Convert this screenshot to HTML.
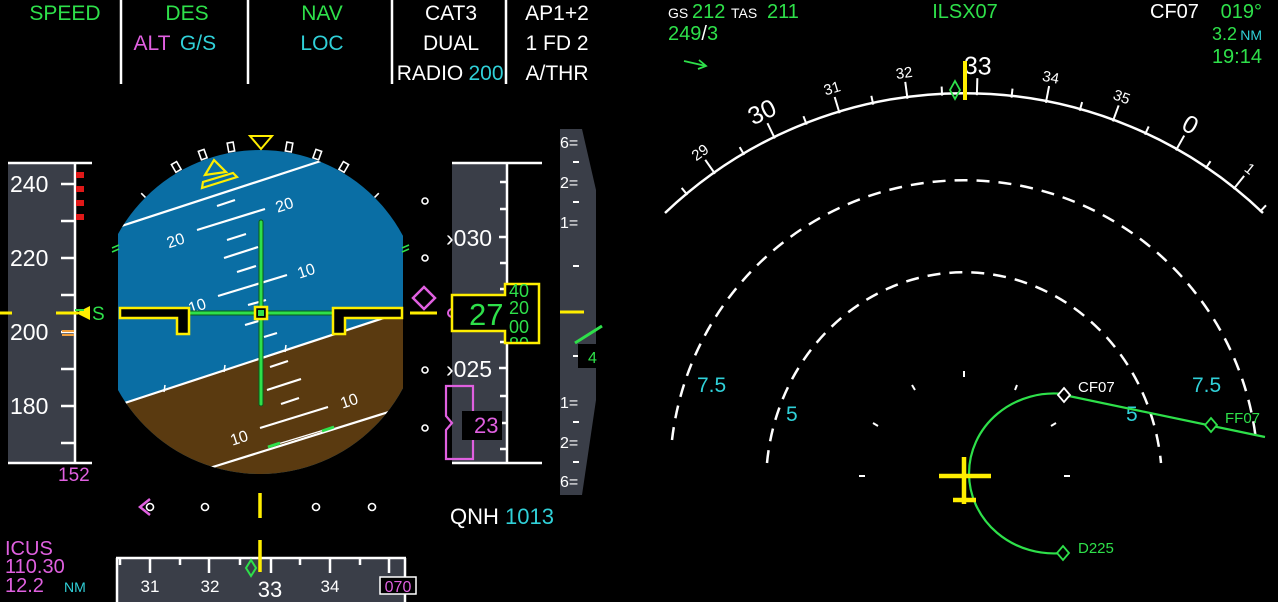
<!DOCTYPE html>
<html><head><meta charset="utf-8"><style>
html,body{margin:0;padding:0;background:#000;}
svg{display:block;}
text{font-family:"Liberation Sans Narrow","Liberation Sans",sans-serif;}
</style></head><body>
<svg width="1278" height="602" viewBox="0 0 1278 602" xmlns="http://www.w3.org/2000/svg">
<rect width="1278" height="602" fill="#000"/>
<defs>
<clipPath id="att"><circle cx="260" cy="312" r="162"/></clipPath>
<clipPath id="attr"><rect x="118" y="140" width="285" height="340"/></clipPath>
<clipPath id="drum"><rect x="506" y="284" width="32" height="58"/></clipPath>
</defs>

<!-- FMA -->
<g stroke="#fff" stroke-width="2.5">
<line x1="121" y1="0" x2="121" y2="84"/><line x1="248" y1="0" x2="248" y2="84"/>
<line x1="392" y1="0" x2="392" y2="84"/><line x1="506" y1="0" x2="506" y2="84"/>
</g>
<g font-size="21" text-anchor="middle">
<text x="65" y="20" fill="#2ee04a">SPEED</text>
<text x="187" y="20" fill="#2ee04a">DES</text>
<text x="152" y="50" fill="#e060e0">ALT</text>
<text x="198" y="50" fill="#30d0d8">G/S</text>
<text x="322" y="20" fill="#2ee04a">NAV</text>
<text x="322" y="50" fill="#30d0d8">LOC</text>
<text x="451" y="20" fill="#fff">CAT3</text>
<text x="451" y="50" fill="#fff">DUAL</text>
<text x="430" y="80" fill="#fff">RADIO</text>
<text x="486" y="80" fill="#30d0d8">200</text>
<text x="557" y="20" fill="#fff">AP1+2</text>
<text x="557" y="50" fill="#fff">1 FD 2</text>
<text x="557" y="80" fill="#fff">A/THR</text>
</g>

<!-- Speed tape -->
<rect x="8" y="163" width="66" height="300" fill="#3a3e48"/>
<g stroke="#fff" stroke-width="2.5">
<line x1="8" y1="163" x2="92" y2="163"/><line x1="8" y1="463" x2="92" y2="463"/>
<line x1="75" y1="163" x2="75" y2="463"/>
<line x1="61" y1="184" x2="75" y2="184"/><line x1="61" y1="221" x2="75" y2="221"/>
<line x1="61" y1="258" x2="75" y2="258"/><line x1="61" y1="295" x2="75" y2="295"/>
<line x1="61" y1="332" x2="75" y2="332"/><line x1="61" y1="369" x2="75" y2="369"/>
<line x1="61" y1="406" x2="75" y2="406"/><line x1="61" y1="443" x2="75" y2="443"/>
</g>
<g font-size="23" fill="#fff">
<text x="10" y="192">240</text><text x="10" y="266">220</text>
<text x="10" y="340">200</text><text x="10" y="414">180</text>
</g>
<g fill="#e01818"><rect x="76" y="172" width="8" height="6"/><rect x="76" y="186" width="8" height="6"/><rect x="76" y="200" width="8" height="6"/><rect x="76" y="214" width="8" height="6"/></g>
<line x1="0" y1="313" x2="12" y2="313" stroke="#ffee00" stroke-width="3"/>
<line x1="56" y1="313" x2="78" y2="313" stroke="#ffee00" stroke-width="3"/>
<polygon points="76,313 90,306 90,320" fill="#ffee00"/>
<line x1="75" y1="310" x2="84" y2="310" stroke="#2ee04a" stroke-width="2"/>
<text x="92" y="320" font-size="19" fill="#2ee04a">S</text>
<line x1="62" y1="331" x2="74" y2="331" stroke="#f0a040" stroke-width="2"/>
<line x1="62" y1="335" x2="74" y2="335" stroke="#f0a040" stroke-width="2"/>
<text x="58" y="481" font-size="19" fill="#e060e0">152</text>

<!-- Attitude -->
<g clip-path="url(#attr)"><g clip-path="url(#att)">
<rect x="90" y="140" width="340" height="340" fill="#0a6ea4"/>
<polygon points="90,414.4 430,302.8 430,480 90,480" fill="#5a3a10"/>
<g stroke="#fff" stroke-width="2.2">
<line x1="90" y1="414.4" x2="430" y2="302.8"/>
<line x1="100" y1="233" x2="330" y2="158"/>
<line x1="217" y1="206" x2="235" y2="200"/>
<line x1="197" y1="230" x2="265" y2="209"/>
<line x1="227" y1="240" x2="246" y2="234"/>
<line x1="224" y1="258" x2="258" y2="247"/>
<line x1="237" y1="272" x2="256" y2="266"/>
<line x1="218" y1="296" x2="287" y2="275"/>
<line x1="248" y1="305" x2="266" y2="300"/>
<line x1="245" y1="325" x2="262" y2="320"/>
<line x1="264" y1="337" x2="277" y2="333"/>
<line x1="270" y1="367" x2="288" y2="361"/>
<line x1="267" y1="390" x2="301" y2="379"/>
<line x1="281" y1="404" x2="299" y2="398"/>
<line x1="260" y1="428" x2="328" y2="407"/>
<line x1="200" y1="471" x2="395" y2="410"/>
<line x1="268" y1="447" x2="334" y2="427" stroke-width="1.2"/>
<line x1="165" y1="385" x2="164" y2="392" stroke-width="1.5"/>
<line x1="225" y1="365" x2="224" y2="372" stroke-width="1.5"/>
<line x1="286" y1="345" x2="285" y2="352" stroke-width="1.5"/>
</g>
<g stroke="#2ee04a" stroke-width="3"><line x1="268" y1="447" x2="280" y2="443"/><line x1="322" y1="431" x2="334" y2="427"/></g>
<g fill="#fff" font-size="16">
<text x="166" y="245" transform="rotate(-18 178 238)">20</text>
<text x="275" y="210" transform="rotate(-18 285 203)">20</text>
<text x="188" y="311" transform="rotate(-18 198 305)">10</text>
<text x="297" y="276" transform="rotate(-18 307 270)">10</text>
<text x="230" y="443" transform="rotate(-18 240 437)">10</text>
<text x="340" y="406" transform="rotate(-18 350 400)">10</text>
</g>
<polygon points="205,175 214,160 226,172" fill="none" stroke="#ffee00" stroke-width="2.2"/>
<polygon points="202,188 237,177 233,173 203,182" fill="none" stroke="#ffee00" stroke-width="2.2"/>
</g></g>
<g fill="#000" stroke="#fff" stroke-width="1.6">
<rect x="257" y="140" width="6" height="9" transform="rotate(-10 260 312)"/>
<rect x="257" y="140" width="6" height="9" transform="rotate(-20 260 312)"/>
<rect x="257" y="140" width="6" height="9" transform="rotate(-30 260 312)"/>
<rect x="257" y="140" width="6" height="9" transform="rotate(10 260 312)"/>
<rect x="257" y="140" width="6" height="9" transform="rotate(20 260 312)"/>
<rect x="257" y="140" width="6" height="9" transform="rotate(30 260 312)"/>
<line x1="260" y1="144" x2="260" y2="150" transform="rotate(-45 260 312)"/>
<line x1="260" y1="144" x2="260" y2="150" transform="rotate(45 260 312)"/>
</g>
<polygon points="250,136 272,136 261,149" fill="none" stroke="#ffee00" stroke-width="2"/>
<g stroke="#2ee04a" stroke-width="1.5"><line x1="112" y1="248" x2="119" y2="245"/><line x1="112" y1="252" x2="119" y2="249"/><line x1="402" y1="248" x2="409" y2="245"/><line x1="402" y1="252" x2="409" y2="249"/></g>
<g stroke="#0a5a18" stroke-width="5" stroke-linecap="round"><line x1="189" y1="313" x2="333" y2="313"/><line x1="261" y1="222" x2="261" y2="404"/></g>
<g stroke="#2ee04a" stroke-width="3" stroke-linecap="round"><line x1="189" y1="313" x2="333" y2="313"/><line x1="261" y1="222" x2="261" y2="404"/></g>
<g fill="#000" stroke="#ffee00" stroke-width="2.5">
<polygon points="120,308 189,308 189,334 177,334 177,318 120,318"/>
<polygon points="402,308 333,308 333,334 345,334 345,318 402,318"/>
<rect x="255" y="307" width="12" height="12"/>
</g>
<rect x="258" y="310" width="6" height="6" fill="#2ee04a"/>

<g fill="none" stroke="#fff" stroke-width="1.6"><circle cx="425" cy="201" r="3"/><circle cx="425" cy="258" r="3"/><circle cx="425" cy="370" r="3"/><circle cx="425" cy="428" r="3"/></g>
<polygon points="424,287 435,298 424,309 413,298" fill="none" stroke="#e060e0" stroke-width="2.5"/>
<line x1="410" y1="313" x2="437" y2="313" stroke="#ffee00" stroke-width="3"/>
<circle cx="452" cy="313" r="4" fill="none" stroke="#e060e0" stroke-width="2"/>

<!-- altitude tape -->
<rect x="452" y="163" width="55" height="300" fill="#3a3e48"/>
<g stroke="#fff" stroke-width="2.5">
<line x1="452" y1="163" x2="542" y2="163"/><line x1="452" y1="463" x2="542" y2="463"/>
<line x1="507" y1="163" x2="507" y2="463"/>
<line x1="500" y1="182" x2="507" y2="182"/><line x1="500" y1="209" x2="507" y2="209"/>
<line x1="499" y1="237" x2="507" y2="237"/><line x1="500" y1="263" x2="507" y2="263"/>
<line x1="500" y1="289" x2="507" y2="289"/><line x1="500" y1="342" x2="507" y2="342"/>
<line x1="499" y1="368" x2="507" y2="368"/><line x1="500" y1="396" x2="507" y2="396"/>
<line x1="500" y1="423" x2="507" y2="423"/><line x1="500" y1="449" x2="507" y2="449"/>
</g>
<g fill="#fff" font-size="23"><text x="446" y="246">›030</text><text x="446" y="377">›025</text></g>
<polygon points="452,295 505,295 505,284 539,284 539,343 505,343 505,331 452,331" fill="#000" stroke="#ffee00" stroke-width="2.5"/>
<text x="469" y="325" font-size="31" fill="#2ee04a">27</text>
<g clip-path="url(#drum)" fill="#2ee04a" font-size="18">
<text x="509" y="297">40</text><text x="509" y="314">20</text><text x="509" y="333">00</text><text x="509" y="350">80</text>
</g>
<polygon points="446,386 473,386 473,459 446,459 446,430 452,423 446,416" fill="none" stroke="#e060e0" stroke-width="2.2"/>
<rect x="462" y="411" width="40" height="29" fill="#000"/>
<text x="474" y="433" font-size="22" fill="#e060e0">23</text>

<!-- VS scale -->
<polygon points="560,129 582,129 596,190 596,400 582,495 560,495" fill="#3a3e48"/>
<g fill="#fff" font-size="16"><text x="560" y="148">6=</text><text x="560" y="188">2=</text><text x="560" y="228">1=</text><text x="560" y="408">1=</text><text x="560" y="448">2=</text><text x="560" y="487">6=</text></g>
<g stroke="#fff" stroke-width="2"><line x1="573" y1="162" x2="579" y2="162"/><line x1="573" y1="202" x2="579" y2="202"/><line x1="573" y1="266" x2="579" y2="266"/><line x1="573" y1="356" x2="579" y2="356"/><line x1="573" y1="422" x2="579" y2="422"/><line x1="573" y1="462" x2="579" y2="462"/></g>
<line x1="560" y1="312" x2="584" y2="312" stroke="#ffee00" stroke-width="3"/>
<line x1="575" y1="343" x2="602" y2="326" stroke="#2ee04a" stroke-width="3"/>
<rect x="578" y="344" width="22" height="24" fill="#000"/>
<text x="588" y="363" font-size="16" fill="#2ee04a">4</text>

<polyline points="150,499 140,507 150,515" fill="none" stroke="#e060e0" stroke-width="2.5"/>
<g fill="none" stroke="#fff" stroke-width="1.6"><circle cx="150" cy="507" r="3.5"/><circle cx="205" cy="507" r="3.5"/><circle cx="316" cy="507" r="3.5"/><circle cx="372" cy="507" r="3.5"/></g>
<line x1="260" y1="493" x2="260" y2="518" stroke="#ffee00" stroke-width="3.5"/>
<text x="450" y="524" font-size="22" fill="#fff">QNH</text>
<text x="505" y="524" font-size="22" fill="#30d0d8">1013</text>

<g font-size="20" fill="#e060e0"><text x="5" y="555">ICUS</text><text x="5" y="573">110.30</text><text x="5" y="592">12.2</text></g>
<text x="64" y="592" font-size="14" fill="#30d0d8">NM</text>

<!-- heading tape -->
<rect x="117" y="558" width="288" height="44" fill="#3a3e48"/>
<g stroke="#fff" stroke-width="2.5">
<line x1="116" y1="558" x2="406" y2="558"/><line x1="117" y1="558" x2="117" y2="602"/><line x1="405" y1="558" x2="405" y2="602"/>
<line x1="120" y1="558" x2="120" y2="565"/><line x1="150" y1="558" x2="150" y2="573"/><line x1="180" y1="558" x2="180" y2="565"/>
<line x1="209" y1="558" x2="209" y2="573"/><line x1="240" y1="558" x2="240" y2="565"/><line x1="271" y1="558" x2="271" y2="573"/>
<line x1="300" y1="558" x2="300" y2="565"/><line x1="330" y1="558" x2="330" y2="573"/><line x1="360" y1="558" x2="360" y2="565"/><line x1="389" y1="558" x2="389" y2="573"/>
</g>
<g fill="#fff" font-size="17" text-anchor="middle"><text x="150" y="592">31</text><text x="210" y="592">32</text><text x="330" y="592">34</text></g>
<text x="270" y="597" font-size="22" fill="#fff" text-anchor="middle">33</text>
<polygon points="251,560 256,568 251,576 246,568" fill="none" stroke="#2ee04a" stroke-width="2"/>
<line x1="260" y1="540" x2="260" y2="572" stroke="#ffee00" stroke-width="3.5"/>
<rect x="380" y="577" width="36" height="17" fill="#000" stroke="#fff" stroke-width="1.5"/>
<text x="398" y="592" font-size="16" fill="#e060e0" text-anchor="middle">070</text>

<!-- ND header -->
<text x="668" y="18" font-size="14" fill="#fff">GS</text>
<text x="692" y="18" font-size="20" fill="#2ee04a">212</text>
<text x="731" y="18" font-size="14" fill="#fff">TAS</text>
<text x="767" y="18" font-size="20" fill="#2ee04a">211</text>
<text x="668" y="40" font-size="20" fill="#2ee04a">249<tspan fill="#fff">/</tspan>3</text>
<line x1="684" y1="61" x2="706" y2="66" stroke="#2ee04a" stroke-width="1.8"/>
<polyline points="699,60 706,66 698,69" fill="none" stroke="#2ee04a" stroke-width="1.8"/>
<text x="965" y="18" font-size="20" fill="#2ee04a" text-anchor="middle">ILSX07</text>
<text x="1150" y="18" font-size="20" fill="#fff">CF07</text>
<text x="1262" y="18" font-size="20" fill="#2ee04a" text-anchor="end">019°</text>
<text x="1237" y="40" font-size="18" fill="#2ee04a" text-anchor="end">3.2</text>
<text x="1262" y="40" font-size="14" fill="#30d0d8" text-anchor="end">NM</text>
<text x="1262" y="63" font-size="20" fill="#2ee04a" text-anchor="end">19:14</text>

<path d="M665,213 A433 433 0 0 1 1263,213" fill="none" stroke="#fff" stroke-width="2.5"/>
<g stroke="#fff" stroke-width="2">
<line x1="964" y1="95" x2="964" y2="86" transform="rotate(-39.7 964 528)"/>
<line x1="964" y1="95" x2="964" y2="78" transform="rotate(-35.1 964 528)"/>
<line x1="964" y1="95" x2="964" y2="86" transform="rotate(-30.5 964 528)"/>
<line x1="964" y1="95" x2="964" y2="78" transform="rotate(-25.9 964 528)"/>
<line x1="964" y1="95" x2="964" y2="86" transform="rotate(-21.3 964 528)"/>
<line x1="964" y1="95" x2="964" y2="78" transform="rotate(-16.7 964 528)"/>
<line x1="964" y1="95" x2="964" y2="86" transform="rotate(-12.1 964 528)"/>
<line x1="964" y1="95" x2="964" y2="78" transform="rotate(-7.5 964 528)"/>
<line x1="964" y1="95" x2="964" y2="86" transform="rotate(-2.9 964 528)"/>
<line x1="964" y1="95" x2="964" y2="78" transform="rotate(1.7 964 528)"/>
<line x1="964" y1="95" x2="964" y2="86" transform="rotate(6.3 964 528)"/>
<line x1="964" y1="95" x2="964" y2="78" transform="rotate(10.9 964 528)"/>
<line x1="964" y1="95" x2="964" y2="86" transform="rotate(15.5 964 528)"/>
<line x1="964" y1="95" x2="964" y2="78" transform="rotate(20.1 964 528)"/>
<line x1="964" y1="95" x2="964" y2="86" transform="rotate(24.7 964 528)"/>
<line x1="964" y1="95" x2="964" y2="78" transform="rotate(29.3 964 528)"/>
<line x1="964" y1="95" x2="964" y2="86" transform="rotate(33.9 964 528)"/>
<line x1="964" y1="95" x2="964" y2="78" transform="rotate(38.5 964 528)"/>
<line x1="964" y1="95" x2="964" y2="86" transform="rotate(43.1 964 528)"/>
</g>
<g fill="#fff" text-anchor="middle" font-size="15">
<text x="964" y="74" transform="rotate(-35.1 964 528)">29</text>
<text x="964" y="74" transform="rotate(-16.7 964 528)">31</text>
<text x="964" y="74" transform="rotate(-7.5 964 528)">32</text>
<text x="964" y="74" transform="rotate(10.9 964 528)">34</text>
<text x="964" y="74" transform="rotate(20.1 964 528)">35</text>
<text x="964" y="74" transform="rotate(38.5 964 528)">1</text>
</g>
<g fill="#fff" text-anchor="middle" font-size="25">
<text x="964" y="74" transform="rotate(-25.9 964 528)">30</text>
<text x="964" y="74" transform="rotate(1.7 964 528)">33</text>
<text x="964" y="74" transform="rotate(29.3 964 528)">0</text>
</g>
<polygon points="955,81 960,90 955,99 950,90" fill="none" stroke="#2ee04a" stroke-width="1.8"/>
<line x1="965" y1="61" x2="965" y2="100" stroke="#ffee00" stroke-width="4"/>

<g fill="none" stroke="#fff" stroke-width="2.5" stroke-dasharray="13 9">
<path d="M672,440 A294 294 0 0 1 1256,440"/>
<path d="M767,463 A198 212 0 0 1 1161,463"/>
</g>
<g fill="#30d0d8" font-size="21"><text x="697" y="392">7.5</text><text x="786" y="421">5</text><text x="1126" y="421">5</text><text x="1192" y="392">7.5</text></g>
<g stroke="#fff" stroke-width="2">
<line x1="964" y1="371" x2="964" y2="377"/><line x1="912" y1="385" x2="915" y2="390"/><line x1="873" y1="423" x2="878" y2="426"/>
<line x1="859" y1="476" x2="865" y2="476"/><line x1="1064" y1="476" x2="1070" y2="476"/><line x1="1051" y1="426" x2="1056" y2="423"/><line x1="1015" y1="390" x2="1017" y2="385"/>
</g>

<path d="M1064,394 A85 80 0 1 0 1063,553" fill="none" stroke="#2ee04a" stroke-width="2.2"/>
<line x1="1064" y1="395" x2="1265" y2="437" stroke="#2ee04a" stroke-width="2.2"/>
<polygon points="1064,388 1070,395 1064,402 1058,395" fill="#000" stroke="#fff" stroke-width="1.8"/>
<polygon points="1211,418 1217,425 1211,432 1205,425" fill="#000" stroke="#2ee04a" stroke-width="1.8"/>
<polygon points="1063,546 1069,553 1063,560 1057,553" fill="#000" stroke="#2ee04a" stroke-width="1.8"/>
<text x="1078" y="392" font-size="15" fill="#fff">CF07</text>
<text x="1225" y="423" font-size="15" fill="#2ee04a">FF07</text>
<text x="1078" y="553" font-size="15" fill="#2ee04a">D225</text>

<g stroke="#ffee00" stroke-width="4.5">
<line x1="939" y1="476" x2="991" y2="476"/><line x1="964" y1="457" x2="964" y2="504"/><line x1="953" y1="500" x2="976" y2="500"/>
</g>
</svg>
</body></html>
